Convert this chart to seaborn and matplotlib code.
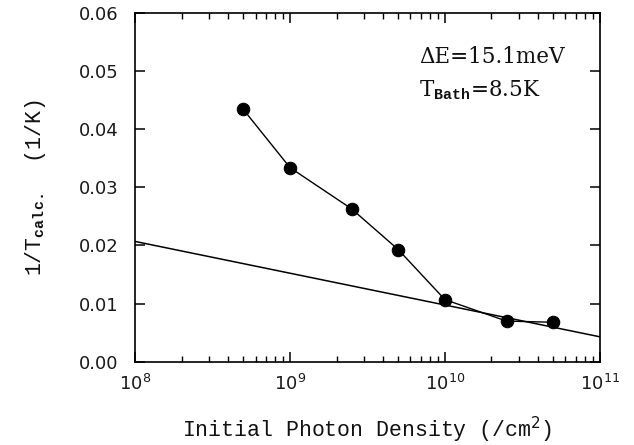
import matplotlib
matplotlib.use("Agg")
import matplotlib.pyplot as plt
import matplotlib.ticker as mticker
import numpy as np
import pandas as pd
import seaborn as sns

# Measured inverse temperature vs. initial photon density
photon_density = [5e8, 1e9, 2.5e9, 5e9, 1e10, 2.5e10, 5e10]
inv_temp = [0.0434, 0.0334, 0.0263, 0.0193, 0.0107, 0.0070, 0.0068]

# Straight reference line (linear in log density), endpoints at the axis limits
fit_density = [1e8, 1e11]
fit_inv_temp = [0.0207, 0.0043]

x_ticks = [1e8, 1e9, 1e10, 1e11]
y_ticks = [0.00, 0.01, 0.02, 0.03, 0.04, 0.05, 0.06]

sns.set_theme(style="ticks")
plt.rcParams["font.family"] = ["DejaVu Sans"]
plt.rcParams["mathtext.fontset"] = "custom"
plt.rcParams["mathtext.rm"] = "DejaVu Sans"
plt.rcParams["mathtext.sf"] = "Liberation Mono:bold"
plt.rcParams["mathtext.it"] = "DejaVu Sans:italic"
plt.rcParams["mathtext.bf"] = "DejaVu Sans:bold"

fig = plt.figure(figsize=(6.34, 4.45), dpi=100)
ax = fig.add_axes([0.213, 0.187, 0.733, 0.784])

data = pd.DataFrame({"density": photon_density, "inv_temp": inv_temp})
fit = pd.DataFrame({"density": fit_density, "inv_temp": fit_inv_temp})

sns.lineplot(data=fit, x="density", y="inv_temp", ax=ax, color="black",
             linewidth=1.1)
sns.lineplot(data=data, x="density", y="inv_temp", ax=ax, color="black",
             linewidth=1.0, marker="o", markersize=9, markeredgecolor="black",
             markerfacecolor="black")

ax.set_xscale("log")
ax.set_xlim(1e8, 1e11)
ax.set_ylim(0.0, 0.06)
ax.set_xticks(x_ticks)
ax.xaxis.set_major_formatter(mticker.LogFormatterSciNotation())
ax.xaxis.set_minor_locator(mticker.LogLocator(base=10, subs=np.arange(2, 10)))
ax.xaxis.set_minor_formatter(mticker.NullFormatter())
ax.set_yticks(y_ticks)
ax.yaxis.set_major_formatter(mticker.FormatStrFormatter("%.2f"))

ax.tick_params(which="both", direction="in", top=True, right=True,
               color="black", labelsize=13, labelcolor="#1a1a1a")
ax.tick_params(which="major", length=7, width=1.1)
ax.tick_params(axis="y", which="major", pad=12)
ax.tick_params(axis="x", which="major", pad=9)
ax.tick_params(which="minor", length=4, width=1.0)

for side in ax.spines.values():
    side.set_linewidth(1.2)
    side.set_color("black")

mono = ["Liberation Mono", "DejaVu Sans Mono"]
ax.set_xlabel(r"Initial Photon Density (/cm$^{2}$)", fontsize=15.5,
              family=mono, labelpad=15, color="#111111")
ax.set_ylabel(r"1/T$_{\mathsf{calc.}}$  (1/K)", fontsize=15.5, family=mono,
              labelpad=22, color="#111111")

serif = ["DejaVu Serif", "Liberation Serif"]
ax.text(0.611, 0.857, r"ΔE=15.1meV", transform=ax.transAxes, fontsize=15.5,
        family=serif, color="#111111", va="baseline")
ax.text(0.611, 0.762, r"T$_{\mathsf{Bath}}$=8.5K", transform=ax.transAxes,
        fontsize=15.5, family=serif, color="#111111", va="baseline")

ax.set_facecolor("white")
fig.patch.set_facecolor("white")
fig.savefig("out.png", dpi=100)
